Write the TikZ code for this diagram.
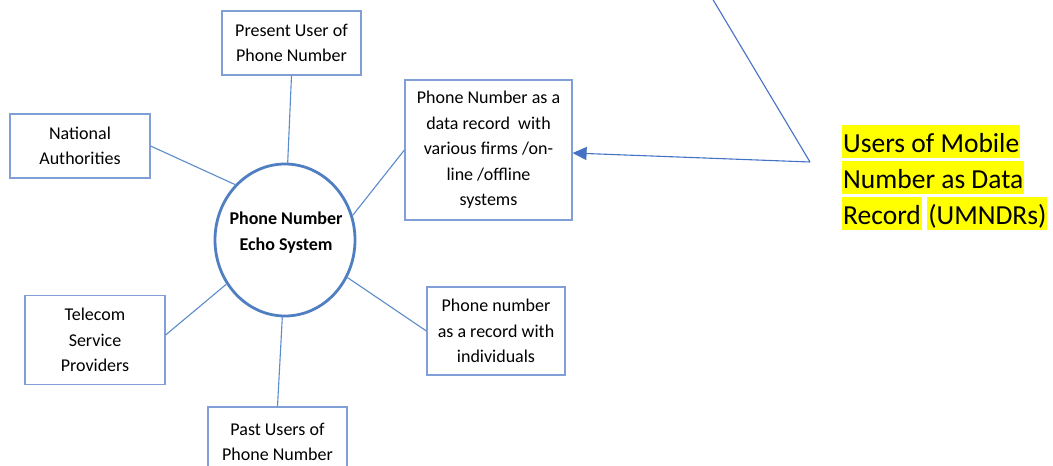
\documentclass[tikz,border=0pt]{standalone}
\usepackage{fontspec}
\setmainfont{Carlito}
\usetikzlibrary{shapes.geometric,arrows.meta,calc}

\definecolor{boxline}{HTML}{7F9FD6}
\definecolor{linkline}{HTML}{5B8CCB}
\definecolor{ringline}{HTML}{4F7EC1}
\definecolor{arrowline}{HTML}{4472C4}
\definecolor{marker}{HTML}{FFFF00}

\tikzset{
  actor/.style={draw=boxline, line width=1.2pt, fill=white, align=center,
    inner sep=0pt, font=\fontsize{18}{25.5}\selectfont},
  link/.style={draw=linkline, line width=1.1pt},
  hub/.style={ellipse, draw=ringline, line width=2.8pt, fill=white, inner sep=0pt},
  hubtext/.style={align=center, inner sep=0pt, font=\bfseries\fontsize{18}{26}\selectfont},
  pointer/.style={draw=arrowline, line width=1.1pt},
  hilite/.style={fill=marker, inner xsep=1pt, inner ysep=0pt, anchor=base west,
    text height=27pt, text depth=6pt, font=\fontsize{27.5}{37}\selectfont}
}

\begin{document}
\begin{tikzpicture}[x=1pt,y=-1pt]
  \clip (0,0) rectangle (1053,466);
  \fill[white] (0,0) rectangle (1053,466);

  % surrounding parties
  \node[actor, minimum width=139pt, minimum height=64pt] (present) at (291.5,43)
    {Present User of\\Phone Number};
  \node[actor, minimum width=140pt, minimum height=64pt] (nat) at (80,146)
    {National\\Authorities};
  \node[actor, minimum width=167pt, minimum height=140pt] (data) at (488.5,150)
    {Phone Number as a\\data record~ with\\various firms /on-\\line /offline\\systems};
  \node[actor, minimum width=140pt, minimum height=89pt] (tel) at (95,340)
    {Telecom\\Service\\Providers};
  \node[actor, minimum width=138pt, minimum height=88pt] (ind) at (496,331)
    {Phone number\\as a record with\\individuals};
  \node[actor, minimum width=139pt, minimum height=70pt, text depth=0pt] (past) at (277.5,442)
    {Past Users of\\Phone Number};

  % central ecosystem ring
  \node[hub, minimum width=140pt, minimum height=152pt] (eco) at (285,240) {};

  % spokes
  \draw[link] (present.south) -- (eco.88);
  \draw[link] (nat.east) -- (eco.132);
  \draw[link] (data.west) -- (eco.20);
  \draw[link] ($(tel.east)+(0,-5)$) -- (eco.217);
  \draw[link] (ind.west) -- (eco.329);
  \draw[link] (past.north) -- (eco.268);

  % ring label, set over the spokes
  \node[hubtext] (ecolabel) at ($(eco.center)+(1,-7)$) {Phone Number\\Echo System};

  % callout
  \node[hilite] (l1) at (842,152) {Users of Mobile};
  \node[hilite] (l2) at (842,188) {Number as Data};
  \node[hilite] (l3) at (842,224) {Record};
  \node[hilite] (l4) at ($(l3.base east)+(5,0)$) {(UMNDRs)};

  \coordinate (tip) at (712,-2);
  \coordinate (elbow) at (810,162);
  \draw[pointer] (tip) -- (elbow);
  \draw[pointer, -{Triangle[length=14pt,width=13pt]}] (elbow) -- ($(data.east)+(0,3)$);
\end{tikzpicture}
\end{document}
